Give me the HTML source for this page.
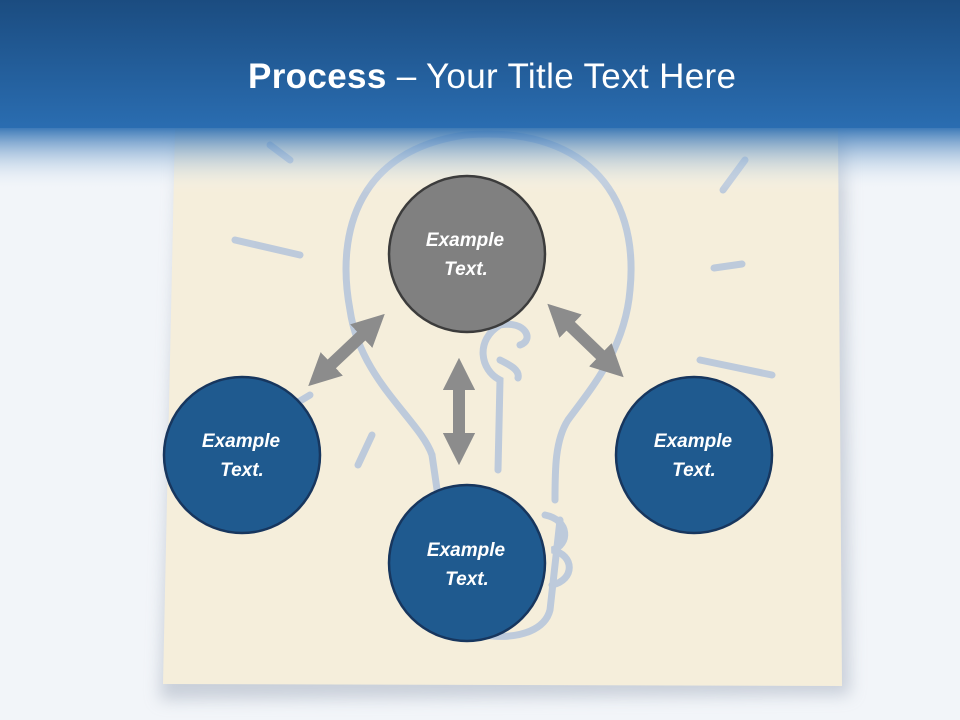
<!DOCTYPE html>
<html><head><style>
body{margin:0;width:960px;height:720px;overflow:hidden;background:#f2f5f9;font-family:"Liberation Sans",sans-serif;position:relative}
</style></head><body>
<svg width="960" height="720" style="position:absolute;left:0;top:0">
<defs>
<linearGradient id="hd" x1="0" y1="0" x2="0" y2="1"><stop offset="0" stop-color="#1b4c80"/><stop offset="1" stop-color="#2a6db1"/></linearGradient>
<linearGradient id="fd" x1="0" y1="0" x2="0" y2="1"><stop offset="0" stop-color="#2a6db1" stop-opacity="0.9"/><stop offset="1" stop-color="#ffffff" stop-opacity="0"/></linearGradient>
<filter id="sh" x="-10%" y="-10%" width="120%" height="120%"><feGaussianBlur stdDeviation="8"/></filter>
<marker id="ah" viewBox="0 0 10 10" refX="5" refY="5" markerWidth="2.7" markerHeight="2.7" orient="auto-start-reverse"><path d="M0,0 L10,5 L0,10 z" fill="#8c8c8c"/></marker>
</defs>
<polygon points="180,135 845,135 850,695 160,700" fill="#b8c0cc" filter="url(#sh)" opacity="0.7"/>
<polygon points="175,128 838,128 842,686 163,684" fill="#f5eedb"/>
<g fill="none" stroke="#b4c4dc" stroke-width="7" stroke-linecap="round" opacity="0.85">
<path d="M432,455 C420,420 360,380 350,310 C335,230 360,150 465,135 C580,125 640,190 630,290 C625,350 590,390 568,420 C555,440 555,470 555,500"/>
<path d="M432,455 L440,510 L445,610 C450,640 540,650 550,610 L560,520"/>
<path d="M545,515 C570,520 570,545 552,550 C575,555 575,580 552,585"/>
<path d="M498,470 L500,380 C480,370 475,340 500,325 C525,320 535,340 520,345"/>
<path d="M500,360 C510,365 520,370 518,378"/>
<path d="M235,240 L300,255"/><path d="M714,268 L742,264"/><path d="M723,190 L745,160"/>
<path d="M700,360 L772,375"/><path d="M372,435 L358,465"/>
<path d="M270,145 L290,160"/><path d="M310,395 L285,410"/>
</g>
<rect x="0" y="0" width="960" height="128" fill="url(#hd)"/>
<rect x="0" y="128" width="960" height="65" fill="url(#fd)"/>
<g stroke="#8c8c8c" stroke-width="12" marker-start="url(#ah)" marker-end="url(#ah)">
<line x1="320" y1="375" x2="373" y2="325"/>
<line x1="459" y1="374" x2="459" y2="449"/>
<line x1="559" y1="315" x2="612" y2="366"/>
</g>
<g stroke-width="2.5" font-family="Liberation Sans,sans-serif" font-style="italic" font-weight="bold" font-size="19" fill="#fff" text-anchor="middle">
<circle cx="467" cy="254" r="78" fill="#808080" stroke="#3c3c3c"/>
<circle cx="242" cy="455" r="78" fill="#1f5a8f" stroke="#17365e"/>
<circle cx="467" cy="563" r="78" fill="#1f5a8f" stroke="#17365e"/>
<circle cx="694" cy="455" r="78" fill="#1f5a8f" stroke="#17365e"/>
<g stroke="none">
<text x="465" y="246">Example</text><text x="466" y="275">Text.</text>
<text x="241" y="447">Example</text><text x="242" y="476">Text.</text>
<text x="466" y="556">Example</text><text x="467" y="585">Text.</text>
<text x="693" y="447">Example</text><text x="694" y="476">Text.</text>
</g></g>
<text x="492" y="88" text-anchor="middle" fill="#fff" font-size="35" font-family="Liberation Sans,sans-serif" textLength="488"><tspan font-weight="bold">Process</tspan> – Your Title Text Here</text>
</svg>
</body></html>
